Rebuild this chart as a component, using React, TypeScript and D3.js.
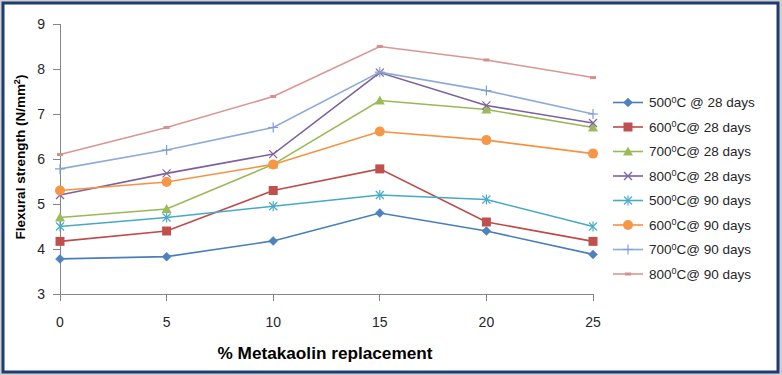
import React from "react";
import * as d3 from "d3";

const W = 782;
const H = 375;

const xValues = [0, 5, 10, 15, 20, 25];
const yTicks = [3, 4, 5, 6, 7, 8, 9];

const s500_28 = [3.78, 3.83, 4.18, 4.8, 4.4, 3.88];
const s600_28 = [4.17, 4.4, 5.3, 5.78, 4.6, 4.17];
const s700_28 = [4.7, 4.89, 5.88, 7.3, 7.1, 6.7];
const s800_28 = [5.2, 5.68, 6.11, 7.92, 7.19, 6.8];
const s500_90 = [4.5, 4.7, 4.95, 5.2, 5.1, 4.5];
const s600_90 = [5.3, 5.49, 5.88, 6.61, 6.42, 6.12];
const s700_90 = [5.78, 6.2, 6.7, 7.93, 7.52, 7.0];
const s800_90 = [6.1, 6.7, 7.39, 8.5, 8.2, 7.81];

const seriesNames = ["500", "600", "700", "800", "500", "600", "700", "800"];
const seriesDays = ["28", "28", "28", "28", "90", "90", "90", "90"];
const seriesData = [s500_28, s600_28, s700_28, s800_28, s500_90, s600_90, s700_90, s800_90];
const lineColors = ["#4A7EBB", "#BE4B48", "#98B954", "#7D60A0", "#46AAC5", "#F69240", "#8EABD8", "#D99694"];
const markerColors = ["#4F81BD", "#C0504D", "#9BBB59", "#8064A2", "#4BACC6", "#F79646", "#7F9FD3", "#D88E8C"];
const markerTypes = ["diamond", "square", "triangle", "x", "star", "circle", "plus", "dash"];

const FONT = "'Liberation Sans', Arial, sans-serif";

function Marker({ type, x, y, color }: { type: string; x: number; y: number; color: string }) {
  switch (type) {
    case "diamond":
      return <path d={`M${x},${y - 4.5}L${x + 4.5},${y}L${x},${y + 4.5}L${x - 4.5},${y}Z`} fill={color} stroke={color} strokeWidth={0.5} />;
    case "square":
      return <rect x={x - 4.5} y={y - 4.5} width={9} height={9} fill={color} />;
    case "triangle":
      return <path d={`M${x},${y - 5}L${x + 5},${y + 4}L${x - 5},${y + 4}Z`} fill={color} />;
    case "x":
      return (
        <g stroke={color} strokeWidth={1.2}>
          <line x1={x - 4} y1={y - 4} x2={x + 4} y2={y + 4} />
          <line x1={x - 4} y1={y + 4} x2={x + 4} y2={y - 4} />
        </g>
      );
    case "star":
      return (
        <g stroke={color} strokeWidth={1.2}>
          <line x1={x - 4} y1={y - 4} x2={x + 4} y2={y + 4} />
          <line x1={x - 4} y1={y + 4} x2={x + 4} y2={y - 4} />
          <line x1={x} y1={y - 5} x2={x} y2={y + 5} />
        </g>
      );
    case "circle":
      return <circle cx={x} cy={y} r={5} fill={color} />;
    case "plus":
      return (
        <g stroke={color} strokeWidth={1.2}>
          <line x1={x - 5} y1={y} x2={x + 5} y2={y} />
          <line x1={x} y1={y - 5} x2={x} y2={y + 5} />
        </g>
      );
    case "dash":
      return <rect x={x - 3} y={y - 1.5} width={6} height={3} fill={color} />;
    default:
      return null;
  }
}

export default function App() {
  const x = d3.scaleLinear().domain([0, 25]).range([60, 593]);
  const y = d3.scaleLinear().domain([3, 9]).range([294, 24]);
  const line = d3
    .line<number>()
    .x((_, i) => x(xValues[i]))
    .y((d) => y(d));

  const legendX = 613;
  const legendY0 = 102.5;
  const legendStep = 24.5;

  return (
    <div style={{ position: "fixed", left: 0, top: 0 }}>
      <svg width={W} height={H} style={{ display: "block" }}>
        <rect x={0} y={0} width={W} height={H} fill="#d0d0d0" />
        <rect x={3} y={3} width={775} height={369} fill="#ffffff" stroke="#1F3B73" strokeWidth={3} />

        {/* axes */}
        <g stroke="#868686" strokeWidth={1} shapeRendering="crispEdges">
          <line x1={60} y1={24} x2={60} y2={294} />
          <line x1={60} y1={294} x2={593} y2={294} />
          {yTicks.map((t) => (
            <line key={t} x1={53} y1={y(t)} x2={60} y2={y(t)} />
          ))}
          {xValues.map((t) => (
            <line key={t} x1={x(t)} y1={294} x2={x(t)} y2={301} />
          ))}
        </g>
        <g fontFamily={FONT} fontSize={14} fill="#262626">
          {yTicks.map((t) => (
            <text key={t} x={45} y={y(t)} dy="0.36em" textAnchor="end">
              {t}
            </text>
          ))}
          {xValues.map((t) => (
            <text key={t} x={x(t)} y={327} textAnchor="middle">
              {t}
            </text>
          ))}
        </g>
        <text
          x={325}
          y={359}
          textAnchor="middle"
          fontFamily={FONT}
          fontSize={17}
          fontWeight="bold"
          fill="#000"
          textLength={215}
          lengthAdjust="spacingAndGlyphs"
        >
          % Metakaolin replacement
        </text>
        <text
          transform={`translate(25,157) rotate(-90)`}
          textAnchor="middle"
          fontFamily={FONT}
          fontSize={13.5}
          fontWeight="bold"
          fill="#000"
        >
          Flexural strength (N/mm
          <tspan dy={-5} fontSize={9}>
            2
          </tspan>
          <tspan dy={5}>)</tspan>
        </text>

        {/* series */}
        {seriesData.map((data, si) => (
          <g key={si}>
            <path d={line(data) || ""} fill="none" stroke={lineColors[si]} strokeWidth={1.6} />
            {data.map((v, i) => (
              <Marker key={i} type={markerTypes[si]} x={x(xValues[i])} y={y(v)} color={markerColors[si]} />
            ))}
          </g>
        ))}

        {/* legend */}
        {seriesData.map((_, si) => {
          const ly = legendY0 + si * legendStep;
          return (
            <g key={si}>
              <line x1={legendX} y1={ly} x2={legendX + 30} y2={ly} stroke={lineColors[si]} strokeWidth={1.6} />
              <Marker type={markerTypes[si]} x={legendX + 15} y={ly} color={markerColors[si]} />
              <text x={649} y={ly} dy="0.36em" fontFamily={FONT} fontSize={13.5} fill="#262626">
                {seriesNames[si]}
                <tspan dy={-4.5} fontSize={9}>
                  0
                </tspan>
                <tspan dy={4.5}>{si === 0 ? "C @ " : "C@ "}{seriesDays[si]} days</tspan>
              </text>
            </g>
          );
        })}
      </svg>
    </div>
  );
}
